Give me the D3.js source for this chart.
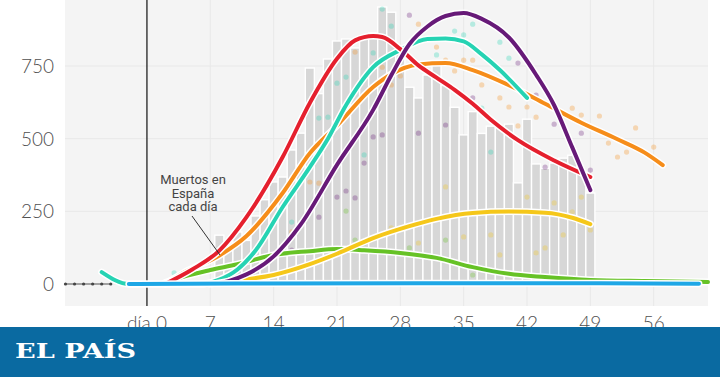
<!DOCTYPE html>
<html lang="es">
<head>
<meta charset="UTF-8">
<title>Muertos por día</title>
<script src="https://d3js.org/d3.v7.min.js"></script>
<style>
  body { margin: 0; background: #fff; overflow: hidden; }
  svg { display: block; }
  .tick-label { font-family: Lato, Roboto, sans-serif; font-size: 19px; fill: #505050; font-weight: 300; }
  .note { font-family: Roboto, "Open Sans", sans-serif; font-size: 13px; fill: #444; }
  .logo { font-family: "DejaVu Serif", "Liberation Serif", serif; font-size: 21px; font-weight: bold; fill: #fff; }
</style>
</head>
<body>
<svg width="720" height="377"></svg>
<script>
// Spain, daily deaths (gray bars), days since day 0
const spainDays = d3.range(8, 50);
const spainDeaths = [168, 120, 179, 150, 234, 290, 351, 368, 461, 519, 743, 655, 774, 836, 843, 812,
  849, 864, 953, 935, 809, 677, 640, 719, 757, 683, 608, 513, 593, 518, 543, 540, 550, 348,
  567, 413, 398, 416, 433, 443, 381, 313];

// smoothed curves per country: [day, deaths]
const redLine = [[2,0],[5,50],[8,115],[11,230],[15,437],[18,623],[21,775],[23,838],[25,853],[26,850],
  [28,808],[30,752],[32,710],[34,668],[36,620],[38,565],[41,495],[45,425],[49,368]];
const tealLine = [[-5,41],[-2,0],[6,0],[8,15],[10,50],[12,115],[15,265],[18,402],[20,500],[22,615],
  [25,746],[28,805],[31,843],[33,845],[35,835],[37,790],[39,736],[42,640]];
const purpleLine = [[7,0],[9,10],[11,33],[14,95],[17,205],[21,410],[25,599],[27,718],[29,825],[31,886],
  [33,922],[35,932],[37,912],[40,848],[43,720],[45,615],[47,470],[49,323]];
const orangeLine = [[2,0],[4,38],[8,98],[11,165],[15,313],[18,450],[21,545],[25,678],[27,722],[30,755],
  [33,760],[36,736],[40,684],[44,620],[48,555],[52,498],[55,452],[57,409]];
const yellowLine = [[6,0],[10,13],[14,31],[18,68],[21,104],[25,158],[29,199],[32,224],[36,244],[40,249],
  [44,245],[47,228],[49,206]];
const greenLine = [[2,5],[4,25],[7,48],[10,68],[14,100],[18,113],[21,120],[24,116],[28,107],[32,90],
  [36,58],[40,35],[44,24],[49,14],[55,10],[62,7]];
const blueLine = [[-2,0],[10,2],[30,3],[50,3],[61,1]];
const darkLine = [[-9,0],[-8,0],[-7,0],[-6,0],[-5,0],[-4,0]];

// daily values (faint dots)
const tealDots = [[3,38],[16,213],[19,571],[20,574],[21,691],[22,712],[24,444],[25,795],[26,946],[27,887],
  [32,788],[34,870],[35,857],[36,894],[37,605],[38,454],[39,832],[40,777]];
const orangeDots = [[16,179],[18,351],[19,347],[23,798],[26,746],[27,685],[28,716],[30,894],[32,815],
  [33,770],[34,733],[35,770],[36,770],[37,685],[39,640],[40,609],[41,544],[42,609],[43,574],[47,605],
  [48,581],[50,578],[51,485],[52,437],[53,454],[54,537],[56,471]];
const purpleDots = [[16,117],[19,230],[21,299],[22,320],[23,296],[24,416],[25,506],[26,513],[29,925],
  [30,519],[33,547],[36,640],[41,760],[43,650],[44,402],[45,550],[48,519],[49,392]];
const greenDots = [[22,251],[23,151],[24,141],[29,124],[33,151],[36,31]];
const yellowDots = [[27,193],[30,141],[33,334],[35,162],[38,169],[39,100],[42,299],[43,107],[44,124],
  [45,279],[46,169],[47,248],[48,299],[49,186]];

const yTicks = [0, 250, 500, 750];
const xTicks = [0, 7, 14, 21, 28, 35, 42, 49, 56];

const svg = d3.select("svg");
const x = d3.scaleLinear().domain([-9, 62]).range([65.5, 708]);
const y = d3.scaleLinear().domain([0, 750]).range([284, 66]);
const plotTop = 0, plotBottom = 306;

// background
svg.append("rect").attr("x", 65).attr("y", plotTop).attr("width", 643).attr("height", plotBottom - plotTop)
  .attr("fill", "#f4f4f4");

// grid
svg.append("g").selectAll("line").data(xTicks.filter(d => d > 0)).join("line")
  .attr("x1", d => x(d)).attr("x2", d => x(d)).attr("y1", plotTop).attr("y2", plotBottom)
  .attr("stroke", "#e8e8e8").attr("stroke-width", 1);
svg.append("g").selectAll("line").data(yTicks).join("line")
  .attr("x1", 65).attr("x2", 708).attr("y1", d => y(d)).attr("y2", d => y(d))
  .attr("stroke", "#e8e8e8").attr("stroke-width", 1);

// y labels
svg.append("g").selectAll("text").data(yTicks).join("text")
  .attr("class", "tick-label").attr("x", 54).attr("y", d => y(d) + 7)
  .attr("text-anchor", "end").text(d => d);

// day 0 line
svg.append("line").attr("x1", x(0)).attr("x2", x(0)).attr("y1", plotTop).attr("y2", plotBottom)
  .attr("stroke", "#111").attr("stroke-width", 1.2);

// Spain bars
const bw = 9.05;
svg.append("g").selectAll("rect").data(spainDays).join("rect")
  .attr("x", (d) => x(d) - bw / 2)
  .attr("width", bw)
  .attr("y", (d, i) => y(spainDeaths[i]))
  .attr("height", (d, i) => y(0) - y(spainDeaths[i]))
  .attr("fill", "#d7d7d7").attr("stroke", "#fff").attr("stroke-width", 1.4);

// dots
const dotSets = [
  [greenDots, "#66c226"], [yellowDots, "#f5c71a"], [orangeDots, "#f68d1a"],
  [tealDots, "#26d3b3"], [purpleDots, "#671a78"]
];
dotSets.forEach(([data, color]) => {
  svg.append("g").selectAll("circle").data(data).join("circle")
    .attr("cx", d => x(d[0])).attr("cy", d => y(d[1])).attr("r", 2.6)
    .attr("fill", color).attr("fill-opacity", 0.3);
});

// dark dotted series at the left
const line = d3.line().x(d => x(d[0])).y(d => y(d[1])).curve(d3.curveMonotoneX);
svg.append("path").attr("d", line(darkLine)).attr("fill", "none")
  .attr("stroke", "#555").attr("stroke-width", 1);
svg.append("g").selectAll("circle").data(darkLine).join("circle")
  .attr("cx", d => x(d[0])).attr("cy", d => y(d[1])).attr("r", 1.6).attr("fill", "#444");

// curves with white halo
const curves = [
  [greenLine, "#66c226"], [yellowLine, "#f5c71a"], [orangeLine, "#f68d1a"],
  [tealLine, "#26d3b3"], [redLine, "#e5202e"], [purpleLine, "#671a78"], [blueLine, "#1ea7e6"]
];
curves.forEach(([data, color]) => {
  const g = svg.append("g");
  g.append("path").attr("d", line(data)).attr("fill", "none")
    .attr("stroke", "#fff").attr("stroke-width", 7).attr("stroke-linecap", "round");
  g.append("path").attr("d", line(data)).attr("fill", "none")
    .attr("stroke", color).attr("stroke-width", 4).attr("stroke-linecap", "round");
});

// annotation
const note = svg.append("text").attr("class", "note").attr("text-anchor", "middle");
["Muertos en", "España", "cada día"].forEach((t, i) => {
  note.append("tspan").attr("x", 193).attr("y", 184 + i * 13.5).text(t);
});
svg.append("line").attr("x1", 192).attr("y1", 216).attr("x2", 220).attr("y2", 255)
  .attr("stroke", "#333").attr("stroke-width", 1);

// x labels
svg.append("g").selectAll("text").data(xTicks).join("text")
  .attr("class", "tick-label").attr("x", d => x(d)).attr("y", 330)
  .attr("text-anchor", "middle").text(d => d === 0 ? "día 0" : d);

// footer band
svg.append("rect").attr("x", 0).attr("y", 327).attr("width", 720).attr("height", 50).attr("fill", "#0a6aa1");
svg.append("text").attr("class", "logo").attr("x", 15).attr("y", 357.5)
  .attr("textLength", 121).attr("lengthAdjust", "spacingAndGlyphs").text("EL PAÍS");
</script>
</body>
</html>
